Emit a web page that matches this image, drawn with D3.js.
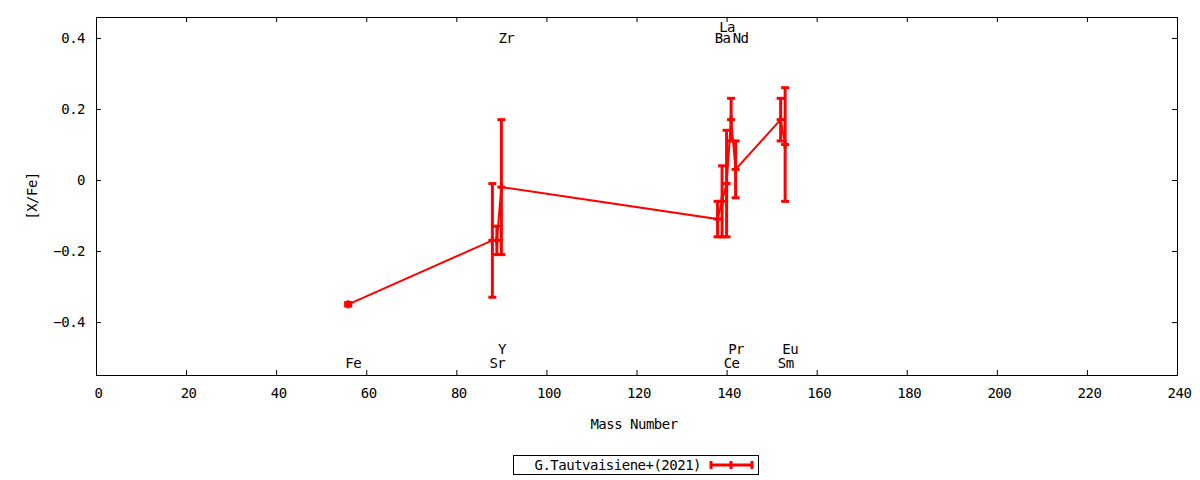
<!DOCTYPE html>
<html>
<head>
<meta charset="utf-8">
<script src="https://cdn.jsdelivr.net/npm/d3@7"></script>
<style>
  body { margin: 0; background: #fff; }
  svg text { font-family: "DejaVu Sans Mono", monospace; font-size: 14px; letter-spacing: -0.5px; fill: #000; }
</style>
</head>
<body>
<svg width="1200" height="480"></svg>
<script>
var elements = ["Fe", "Sr", "Y", "Zr", "Ba", "La", "Ce", "Pr", "Nd", "Sm", "Eu"];
var massNumber = [56, 88, 89, 90, 138, 139, 140, 141, 142, 152, 153];
var xfe = [-0.35, -0.17, -0.17, -0.02, -0.11, -0.06, -0.01, 0.17, 0.03, 0.17, 0.10];
var xfeErr = [0.005, 0.16, 0.04, 0.19, 0.05, 0.10, 0.15, 0.06, 0.08, 0.06, 0.16];
// y value (data units) at which each element name is written
var labelY = [-0.515, -0.515, -0.475, 0.4, 0.4, 0.43, -0.515, -0.475, 0.4, -0.515, -0.475];
var xTicks = [0, 20, 40, 60, 80, 100, 120, 140, 160, 180, 200, 220, 240];
var yTicks = [-0.4, -0.2, 0, 0.2, 0.4];
var seriesName = "G.Tautvaisiene+(2021)";

var svg = d3.select("svg"),
    mLeft = 96, mRight = 1177, mTop = 17, mBottom = 375;

var x = d3.scaleLinear().domain([0, 240]).range([mLeft, mRight]);
var y = d3.scaleLinear().domain([-0.549, 0.459]).range([mBottom, mTop]);

var points = elements.map(function(e, i) {
  return {name: e, m: massNumber[i], v: xfe[i], err: xfeErr[i], ly: labelY[i]};
});

function noDomain(g) { g.select(".domain").remove(); }

// axes, ticks inward and mirrored
svg.append("g")
  .attr("transform", "translate(0," + mBottom + ")")
  .call(d3.axisBottom(x).tickValues(xTicks).tickSize(-5).tickPadding(13).tickFormat(d3.format("d")))
  .call(noDomain)
  .call(function(g) { g.selectAll(".tick text").attr("dx", 2); });
svg.append("g")
  .attr("transform", "translate(0," + mTop + ")")
  .call(d3.axisTop(x).tickValues(xTicks).tickSize(-5).tickFormat(""))
  .call(noDomain);
svg.append("g")
  .attr("transform", "translate(" + mLeft + ",0)")
  .call(d3.axisLeft(y).tickValues(yTicks).tickSize(-5).tickPadding(11)
    .tickFormat(function(d) { return d === 0 ? "0" : d3.format(".1f")(d); }))
  .call(noDomain);
svg.append("g")
  .attr("transform", "translate(" + mRight + ",0)")
  .call(d3.axisRight(y).tickValues(yTicks).tickSize(-5).tickFormat(""))
  .call(noDomain);

svg.selectAll("g").attr("font-family", null).attr("font-size", null);
svg.selectAll(".tick line").attr("stroke", "#000").attr("stroke-width", 1);

svg.append("rect")
  .attr("x", mLeft + 0.5).attr("y", mTop + 0.5)
  .attr("width", mRight - mLeft).attr("height", mBottom - mTop)
  .attr("fill", "none").attr("stroke", "#000").attr("stroke-width", 1);

// axis titles
svg.append("text")
  .attr("x", 634).attr("y", 429)
  .attr("text-anchor", "middle")
  .text("Mass Number");
svg.append("text")
  .attr("transform", "translate(37,196) rotate(-90)")
  .attr("text-anchor", "middle")
  .text("[X/Fe]");

// element names
svg.selectAll(".elabel")
  .data(points)
  .enter().append("text")
  .attr("class", "elabel")
  .attr("x", function(d) { return x(d.m) + 5; })
  .attr("y", function(d) { return y(d.ly); })
  .attr("dy", "0.35em")
  .attr("text-anchor", "middle")
  .text(function(d) { return d.name; });

var red = "#ff0000";

// connecting line
svg.append("path")
  .datum(points)
  .attr("fill", "none")
  .attr("stroke", red)
  .attr("stroke-width", 2)
  .attr("d", d3.line().x(function(d) { return x(d.m); }).y(function(d) { return y(d.v); }));

// error bars
var eb = svg.selectAll(".eb")
  .data(points)
  .enter().append("g")
  .attr("class", "eb")
  .attr("stroke", red)
  .attr("stroke-width", 3);

eb.append("line")
  .attr("x1", function(d) { return x(d.m); })
  .attr("x2", function(d) { return x(d.m); })
  .attr("y1", function(d) { return y(d.v - d.err); })
  .attr("y2", function(d) { return y(d.v + d.err); });
eb.append("line")
  .attr("x1", function(d) { return x(d.m) - 4; })
  .attr("x2", function(d) { return x(d.m) + 4; })
  .attr("y1", function(d) { return y(d.v - d.err); })
  .attr("y2", function(d) { return y(d.v - d.err); });
eb.append("line")
  .attr("x1", function(d) { return x(d.m) - 4; })
  .attr("x2", function(d) { return x(d.m) + 4; })
  .attr("y1", function(d) { return y(d.v + d.err); })
  .attr("y2", function(d) { return y(d.v + d.err); });
// plus marker
eb.append("line")
  .attr("x1", function(d) { return x(d.m) - 4; })
  .attr("x2", function(d) { return x(d.m) + 4; })
  .attr("y1", function(d) { return y(d.v); })
  .attr("y2", function(d) { return y(d.v); });
eb.append("line")
  .attr("x1", function(d) { return x(d.m); })
  .attr("x2", function(d) { return x(d.m); })
  .attr("y1", function(d) { return y(d.v) - 4; })
  .attr("y2", function(d) { return y(d.v) + 4; });

// legend
var lg = svg.append("g");
lg.append("rect")
  .attr("x", 513.5).attr("y", 455.5).attr("width", 245).attr("height", 19)
  .attr("fill", "none").attr("stroke", "#000").attr("stroke-width", 1);
lg.append("text")
  .attr("x", 701).attr("y", 465).attr("dy", "0.35em")
  .attr("text-anchor", "end")
  .text(seriesName);
lg.append("line").attr("x1", 711).attr("x2", 752).attr("y1", 465).attr("y2", 465)
  .attr("stroke", red).attr("stroke-width", 3);
[711, 731, 752].forEach(function(px) {
  lg.append("line").attr("x1", px).attr("x2", px).attr("y1", 461).attr("y2", 469)
    .attr("stroke", red).attr("stroke-width", 3);
});
</script>
</body>
</html>
